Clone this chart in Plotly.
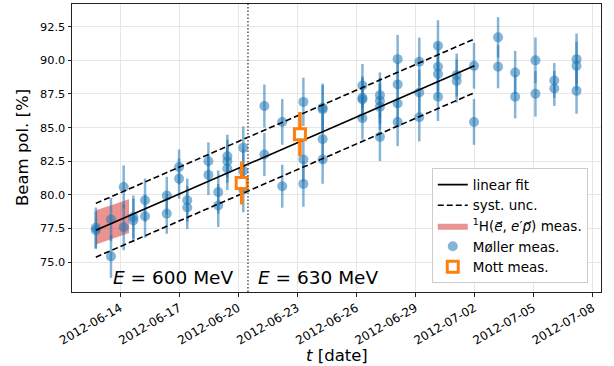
import plotly.graph_objects as go

# ---------------- data ----------------
moller_dates = (
    ["2012-06-12 18:30"] * 2 + ["2012-06-13 13:00"] * 2 + ["2012-06-14 04:30"] * 2 +
    ["2012-06-14 16:20"] * 2 + ["2012-06-15 06:30"] * 2 + ["2012-06-16 09:00"] * 2 +
    ["2012-06-17 00:00"] * 2 + ["2012-06-17 10:00"] * 2 + ["2012-06-18 11:45"] * 2 +
    ["2012-06-18 23:45"] * 2 + ["2012-06-19 10:50"] * 3 + ["2012-06-20 06:15"] * 3 +
    ["2012-06-21 08:00"] * 2 + ["2012-06-22 05:45"] * 2 + ["2012-06-23 07:30"] * 3 +
    ["2012-06-24 07:00"] * 4 + ["2012-06-26 07:30"] * 4 + ["2012-06-27 04:50"] * 4 +
    ["2012-06-28 02:25"] * 4 + ["2012-06-29 04:50"] * 3 + ["2012-06-30 03:35"] * 4 +
    ["2012-07-01 02:25"] * 2 + ["2012-07-01 23:30"] * 2 + ["2012-07-03 04:50"] * 2 +
    ["2012-07-04 01:40"] * 2 + ["2012-07-05 02:25"] * 2 + ["2012-07-06 01:25"] * 2 +
    ["2012-07-07 04:30"] * 3
)
moller_vals = [
    77.36, 77.55, 78.16, 75.42, 80.58, 77.58,
    78.35, 78.10, 79.60, 78.40, 79.94, 78.60,
    82.07, 81.20, 79.60, 79.05, 82.50, 81.48,
    80.20, 79.20, 82.87, 82.50, 81.95, 83.49, 81.78, 80.40,
    86.60, 83.00, 85.42, 80.64, 86.91, 82.62, 80.81,
    86.47, 86.35, 84.14, 82.62, 88.13, 87.21, 87.09, 85.70,
    87.41, 86.99, 86.54, 84.31, 90.09, 88.21, 86.79, 85.42,
    89.89, 87.61, 85.77, 91.08, 89.52, 88.98, 87.29,
    88.90, 88.46, 89.59, 85.42, 91.71, 89.52,
    89.10, 87.29, 90.00, 87.51, 88.50, 87.91,
    90.09, 89.59, 87.73,
]
moller_errs = [
    1.4, 1.5, 1.6, 1.6, 1.6, 1.7,
    1.6, 1.6, 1.6, 1.6, 1.4, 1.5,
    1.3, 1.5, 1.6, 1.6, 1.4, 1.5,
    1.6, 1.6, 1.6, 1.6, 1.6, 1.6, 1.6, 1.7,
    1.6, 1.6, 1.7, 1.6, 1.8, 1.7, 1.7,
    1.8, 1.8, 1.8, 1.8, 1.6, 1.6, 1.6, 1.6,
    1.7, 1.7, 1.7, 1.8, 1.8, 1.7, 1.7, 1.8,
    1.8, 1.7, 1.8, 1.9, 1.8, 1.8, 1.8,
    1.6, 1.6, 1.7, 1.7, 1.5, 1.6,
    1.6, 1.6, 1.7, 1.7, 1.3, 1.3,
    1.9, 1.8, 1.7,
]

mott_dates = ["2012-06-20 04:20", "2012-06-23 03:20"]
mott_vals = [80.88, 84.51]
mott_errs = [1.6, 1.65]

fit_dates = ["2012-06-12 18:30", "2012-07-02 00:00"]
fit_vals = [77.36, 89.59]
syst_unc = 2.0

band_dates = ["2012-06-12 18:45", "2012-06-14 11:00"]
band_upper = [78.85, 79.67]
band_lower = [76.30, 77.16]

energy_switch = "2012-06-20 12:00"
energy_labels = ["<i>E</i> = 600 MeV", "<i>E</i> = 630 MeV"]

x_range = ["2012-06-11 13:29", "2012-07-08 10:19"]
y_range = [72.77, 94.19]

# ---------------- figure ----------------
FONT = "DejaVu Sans"
BLUE = "rgba(31,119,180,0.55)"
ORANGE = "#ff7f0e"

fig = go.Figure()

fig.add_trace(go.Scatter(
    x=[band_dates[0], band_dates[1], band_dates[1], band_dates[0], band_dates[0]],
    y=[band_upper[0], band_upper[1], band_lower[1], band_lower[0], band_upper[0]],
    fill="toself", fillcolor="rgba(214,39,40,0.5)", mode="lines",
    line=dict(width=0, color="rgba(214,39,40,0.5)"),
    name="<sup>1</sup>H(<i>e⃗</i>, <i>e</i>′<i>p⃗</i>) meas.", legendrank=3,
))

fig.add_trace(go.Scatter(
    x=moller_dates, y=moller_vals, mode="markers",
    marker=dict(symbol="circle", size=10, color=BLUE, line=dict(width=0)),
    error_y=dict(type="data", array=moller_errs, color=BLUE, thickness=2.5, width=0),
    name="Møller meas.", legendrank=4,
))

fig.add_trace(go.Scatter(
    x=fit_dates, y=fit_vals, mode="lines",
    line=dict(color="black", width=1.6),
    name="linear fit", legendrank=1,
))

fig.add_trace(go.Scatter(
    x=[fit_dates[0], fit_dates[1], None, fit_dates[0], fit_dates[1]],
    y=[fit_vals[0] + syst_unc, fit_vals[1] + syst_unc, None,
       fit_vals[0] - syst_unc, fit_vals[1] - syst_unc],
    mode="lines", line=dict(color="black", width=1.6, dash="6px,3px"),
    name="syst. unc.", legendrank=2,
))

fig.add_trace(go.Scatter(
    x=mott_dates, y=mott_vals, mode="markers",
    marker=dict(symbol="square", size=11, color="white",
                line=dict(color=ORANGE, width=3)),
    error_y=dict(type="data", array=mott_errs, color=ORANGE, thickness=3.5, width=0),
    name="Mott meas.", legendrank=5,
))

fig.add_shape(type="line", xref="x", yref="paper",
              x0=energy_switch, x1=energy_switch, y0=0, y1=1,
              line=dict(color="#555555", width=1.5, dash="1.5px,2px"))

fig.add_annotation(x=energy_switch, y=73.86, xref="x", yref="y",
                   text=energy_labels[0], showarrow=False,
                   xanchor="right", yanchor="middle", xshift=-12,
                   font=dict(family=FONT, size=18.5, color="black"))
fig.add_annotation(x=energy_switch, y=73.86, xref="x", yref="y",
                   text=energy_labels[1], showarrow=False,
                   xanchor="left", yanchor="middle", xshift=8,
                   font=dict(family=FONT, size=18.5, color="black"))

# axis titles as annotations (fixed placement)
fig.add_annotation(x=0, y=0.5, xref="paper", yref="paper", xshift=-50,
                   text="Beam pol. [%]", textangle=-90, showarrow=False,
                   xanchor="center", yanchor="middle",
                   font=dict(family=FONT, size=16.5, color="black"))
fig.add_annotation(x=0.5, y=0, xref="paper", yref="paper", yshift=-63,
                   text="<i>t</i> [date]", showarrow=False,
                   xanchor="center", yanchor="middle",
                   font=dict(family=FONT, size=16.5, color="black"))

axis_common = dict(
    showline=True, linecolor="#222222", linewidth=1, mirror=True,
    ticks="outside", ticklen=3.5, tickwidth=0.8, tickcolor="#222222",
    showgrid=True, gridcolor="#e6e6e6", gridwidth=1, zeroline=False,
    automargin=False,
)

fig.update_xaxes(
    type="date", range=x_range, tick0="2012-06-14", dtick=3 * 86400000,
    tickformat="%Y-%m-%d", tickangle=-30,
    tickfont=dict(family=FONT, size=12, color="black"),
    **axis_common,
)
fig.update_yaxes(
    range=y_range, tick0=75, dtick=2.5, tickformat=".1f",
    tickfont=dict(family=FONT, size=11.3, color="black"),
    **axis_common,
)

fig.update_layout(
    width=614, height=366,
    margin=dict(l=72, r=13, t=4, b=74),
    plot_bgcolor="white", paper_bgcolor="white",
    font=dict(family=FONT, color="black"),
    legend=dict(x=0.975, y=0.03, xanchor="right", yanchor="bottom",
                bgcolor="rgba(255,255,255,0.85)", bordercolor="#cccccc", borderwidth=1,
                font=dict(family=FONT, size=13.5, color="black"),
                itemwidth=30, tracegroupgap=0),
    showlegend=True,
)

fig.write_html("out.html", config={"displayModeBar": False},
               post_script="document.body.style.margin='0';document.body.style.overflow='hidden';")
